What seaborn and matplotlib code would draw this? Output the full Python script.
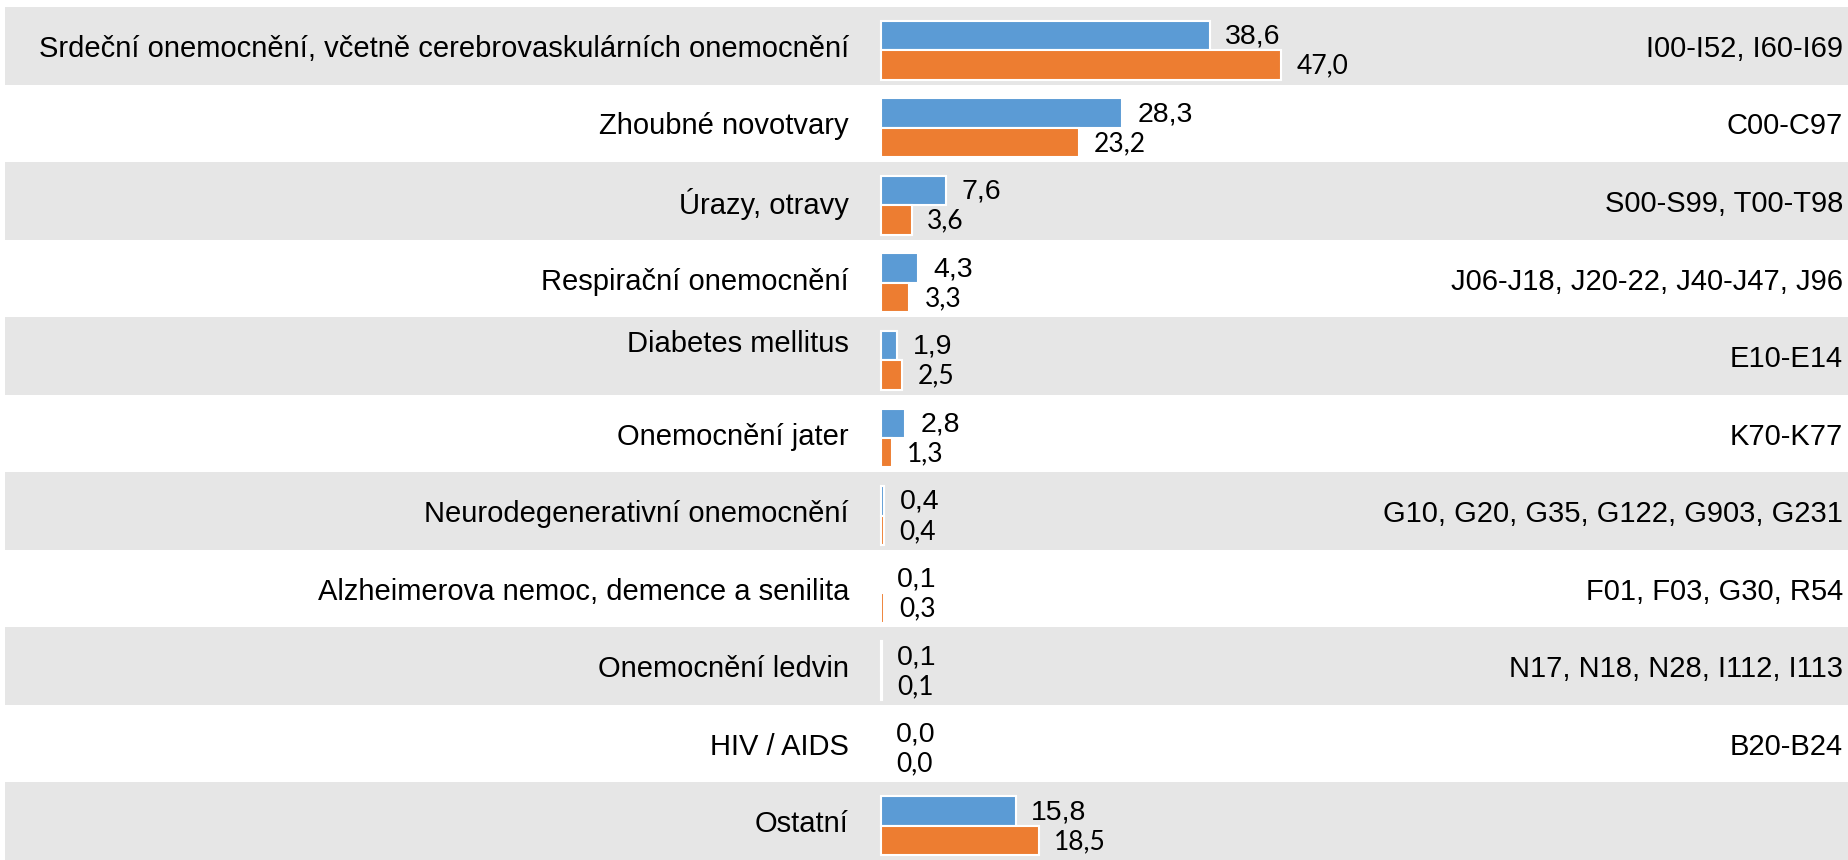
import seaborn as sns
import pandas as pd
import matplotlib.pyplot as plt
import matplotlib.transforms as mtransforms

categories = [
    'Srdeční onemocnění, včetně cerebrovaskulárních onemocnění',
    'Zhoubné novotvary',
    'Úrazy, otravy',
    'Respirační onemocnění',
    'Diabetes mellitus',
    'Onemocnění jater',
    'Neurodegenerativní onemocnění',
    'Alzheimerova nemoc, demence a senilita',
    'Onemocnění ledvin',
    'HIV / AIDS',
    'Ostatní',
]
codes = [
    'I00-I52, I60-I69',
    'C00-C97',
    'S00-S99, T00-T98',
    'J06-J18, J20-22, J40-J47, J96',
    'E10-E14',
    'K70-K77',
    'G10, G20, G35, G122, G903, G231',
    'F01, F03, G30, R54',
    'N17, N18, N28, I112, I113',
    'B20-B24',
    '',
]
series1 = [38.6, 28.3, 7.6, 4.3, 1.9, 2.8, 0.4, 0.1, 0.1, 0.0, 15.8]
series2 = [47.0, 23.2, 3.6, 3.3, 2.5, 1.3, 0.4, 0.3, 0.1, 0.0, 18.5]
series_names = ['Série 1', 'Série 2']
colors = ['#5B9BD5', '#ED7D31']

df = pd.DataFrame({
    'kategorie': categories * 2,
    'serie': [series_names[0]] * len(categories) + [series_names[1]] * len(categories),
    'hodnota': series1 + series2,
})

sns.set_style('white')
plt.rcParams['font.family'] = ['Liberation Sans', 'DejaVu Sans']
plt.rcParams['text.color'] = 'black'

W, H, dpi = 1849, 860, 100
fig = plt.figure(figsize=(W / dpi, H / dpi), dpi=dpi)
ax = fig.add_axes([0, 0, 1, (H - 7) / H])

# x scale: zero at pixel 881, about 8.52 px per unit
x0, ppu = 881, 8.52
ax.set_xlim(-x0 / ppu, (W - x0) / ppu)
shift = 0.058
n = len(categories)

for i in range(n):
    if i % 2 == 0:
        ax.axhspan(i - 0.5 - shift, i + 0.5 - shift, xmin=5 / W, xmax=1,
                   color='#E6E6E6', lw=0, zorder=0)

sns.barplot(data=df, y='kategorie', x='hodnota', hue='serie', order=categories,
            hue_order=series_names, palette=colors, saturation=1, orient='h',
            width=0.76, edgecolor='white', linewidth=1.5, legend=False, ax=ax, zorder=2)
ax.set_ylim(n - 0.5 - shift, -0.5 - shift)

for cont, vals, fam, size in zip(ax.containers, [series1, series2],
                                 [['Liberation Sans'], ['Lato', 'DejaVu Sans']], [20.5, 19]):
    for bar, v in zip(cont, vals):
        yc = bar.get_y() + bar.get_height() / 2
        ax.annotate(f'{v:.1f}'.replace('.', ','), (v, yc), xytext=(11, -0.8),
                    textcoords='offset points', va='center', ha='left',
                    fontsize=size, family=fam, color='black')

trans = mtransforms.blended_transform_factory(ax.transAxes, ax.transData)
for i, (lab, code) in enumerate(zip(categories, codes)):
    yl = i - shift + 0.04
    if lab == 'Diabetes mellitus':
        yl = i - shift - 0.16
    ax.text(849 / W, yl, lab, transform=trans, ha='right', va='center', fontsize=21)
    ax.text(1843 / W, i - shift + 0.04, code, transform=trans, ha='right', va='center',
            fontsize=21)

ax.set_xlabel('')
ax.set_ylabel('')
ax.set_xticks([])
ax.set_yticks([])
for s in ax.spines.values():
    s.set_visible(False)

fig.savefig('out.png', dpi=dpi)
